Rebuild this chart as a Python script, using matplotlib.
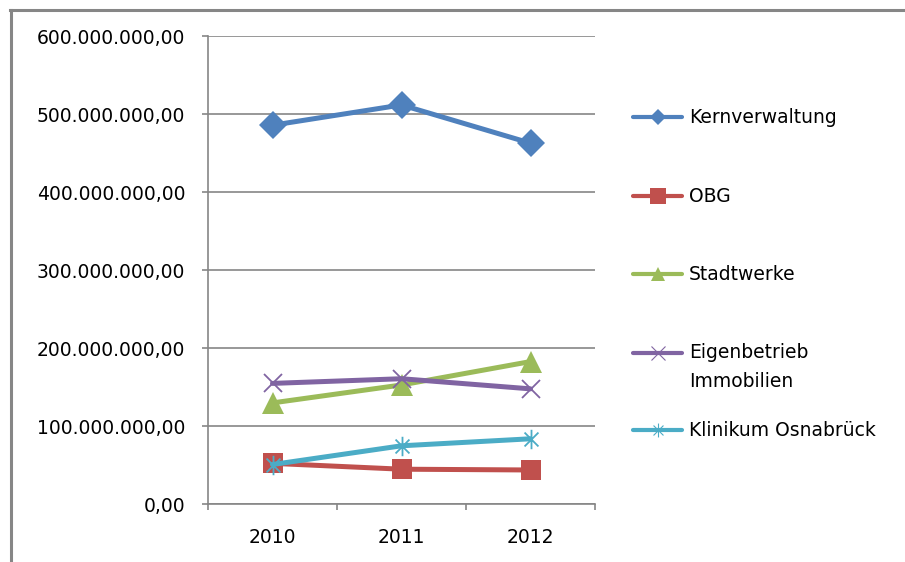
import numpy as np
import matplotlib
matplotlib.use("Agg")
import matplotlib.pyplot as plt
from matplotlib.lines import Line2D
from matplotlib.path import Path
from matplotlib.ticker import FuncFormatter, FixedLocator

plt.rcParams['font.family'] = ['DejaVu Sans']

years = ['2010', '2011', '2012']
kernverwaltung = [486e6, 512e6, 463e6]
obg = [52.5e6, 45e6, 44e6]
stadtwerke = [130e6, 153e6, 183e6]
eigenbetrieb = [155e6, 161e6, 148e6]
klinikum = [51e6, 75e6, 84e6]

labels = ['Kernverwaltung', 'OBG', 'Stadtwerke', 'Eigenbetrieb\nImmobilien', 'Klinikum Osnabrück']
colors = ['#4F81BD', '#C0504D', '#9BBB59', '#8064A2', '#4BACC6']

# excel style star: an x with a vertical bar through it
star = Path([(-1, -1), (1, 1), (-1, 1), (1, -1), (0, -1.4), (0, 1.4)],
            [Path.MOVETO, Path.LINETO, Path.MOVETO, Path.LINETO, Path.MOVETO, Path.LINETO])

styles = [
    dict(marker='D', ms=14.5, mew=0),
    dict(marker='s', ms=14.5, mew=0),
    dict(marker='^', ms=15.5, mew=0),
    dict(marker='x', ms=13, mew=1.3),
    dict(marker=star, ms=14, mew=1.3),
]
series = [kernverwaltung, obg, stadtwerke, eigenbetrieb, klinikum]

W, H = 905, 562
fs = 13.5
fig = plt.figure(figsize=(W / 100, H / 100), dpi=100)
ax = fig.add_axes([208 / W, 1 - 504.3 / H, (595 - 208) / W, (504.3 - 36.3) / H])

x = np.arange(len(years))
for vals, col, st in zip(series, colors, styles):
    ax.plot(x, vals, color=col, lw=3.6, solid_capstyle='round',
            mec=col, mfc=col, clip_on=False, **st)

ax.set_xlim(-0.5, len(years) - 0.5)
ax.set_ylim(0, 600e6)
ax.set_yticks(np.arange(0, 600e6 + 1, 100e6))
ax.yaxis.set_major_formatter(FuncFormatter(
    lambda v, p: f"{v:,.2f}".replace(',', '_').replace('.', ',').replace('_', '.')))
ax.grid(axis='y', color='#868686', lw=1.2)
ax.set_axisbelow(True)

# category boundaries carry the ticks, labels sit in between
ax.xaxis.set_major_locator(FixedLocator(np.arange(-0.5, len(years), 1.0)))
ax.xaxis.set_minor_locator(FixedLocator(x))
ax.set_xticklabels([], minor=False)
ax.set_xticklabels(years, minor=True)
ax.tick_params(axis='x', which='major', length=4.3, color='#868686', width=1.2)
ax.tick_params(axis='x', which='minor', length=0, pad=17, labelsize=fs)
ax.tick_params(axis='y', length=4.3, color='#868686', width=1.2, pad=12, labelsize=fs)

for s in ['top', 'right']:
    ax.spines[s].set_visible(False)
for s in ['left', 'bottom']:
    ax.spines[s].set_color('#868686')
    ax.spines[s].set_linewidth(1.2)

# legend drawn by hand on the right
leg_y = [117, 196, 274, 353, 430]
leg_styles = [
    dict(marker='D', ms=8, mew=0),
    dict(marker='s', ms=12, mew=0),
    dict(marker='^', ms=10, mew=0),
    dict(marker='x', ms=10, mew=0.8),
    dict(marker=star, ms=10, mew=0.8),
]
for lab, col, st, yy in zip(labels, colors, leg_styles, leg_y):
    fy = 1 - yy / H
    fig.add_artist(Line2D([633 / W, 682 / W], [fy, fy], transform=fig.transFigure,
                          color=col, lw=3, solid_capstyle='round'))
    fig.add_artist(Line2D([657.5 / W], [fy], transform=fig.transFigure,
                          color=col, mfc=col, mec=col, ls='none', **st))
    if '\n' in lab:
        fig.text(689 / W, 1 - (yy - 10) / H, lab, va='top', ha='left',
                 fontsize=fs, linespacing=1.65)
    else:
        fig.text(689 / W, fy, lab, va='center', ha='left', fontsize=fs)

# outer frame (top and left edges visible)
fig.add_artist(Line2D([10 / W, 1], [1 - 9.5 / H, 1 - 9.5 / H], transform=fig.transFigure,
                      color='#868686', lw=2.2))
fig.add_artist(Line2D([10.5 / W, 10.5 / W], [0, 1 - 9.5 / H], transform=fig.transFigure,
                      color='#868686', lw=2.2))

fig.savefig('out.png', dpi=100)
